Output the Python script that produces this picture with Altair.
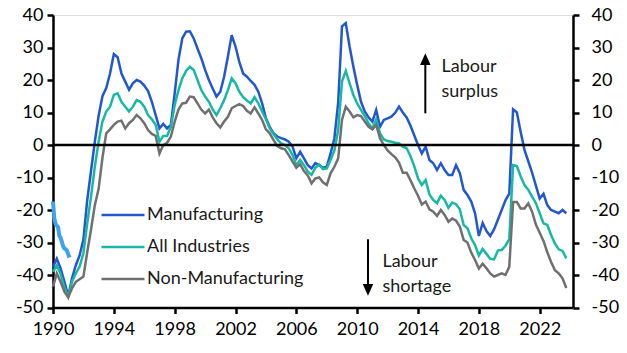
import altair as alt
import pandas as pd

# ---- data (quarterly, 1990Q1 .. 2023Q4) ----
start_year = 1990
n_quarters = 136

manufacturing = [
    -37.5, -35, -38, -42,
    -46.5, -41, -37, -34,
    -29, -17, -8, 1,
    9, 15, 17.5, 22,
    28, 27, 22, 19.5,
    17, 19, 20, 19.5,
    18.3, 16.6, 13.3, 9.2,
    5.1, 6.5, 5.1, 6.2,
    15.9, 26.2, 32.8, 34.9,
    35, 32.8, 29.7, 26.7,
    23.1, 20, 17.4, 14.9,
    16.4, 21, 27.2, 33.8,
    30.3, 25.6, 22, 21,
    19.7, 18.5, 16.4, 12.8,
    8.2, 5.6, 3.6, 2.6,
    2.1, 1.7, 1.0, -0.5,
    -4.1, -2.1, -4.1, -6.2,
    -7.2, -5.6, -6.2, -7,
    -6.7, -2.6, 2, 13,
    36.5, 37.5, 30.3, 24.1,
    18.5, 13.3, 10.3, 8.5,
    7.2, 10.8, 5.6, 7.7,
    8.2, 8.7, 9.9, 11.8,
    10, 8.5, 6, 3,
    0, -2.6, -0.5, -4.6,
    -5.6, -7.7, -5.6, -7.7,
    -9.2, -9.2, -6.2, -8.7,
    -13.8, -15.4, -17.4, -21,
    -28, -24, -26.5, -28,
    -26, -23, -20, -17,
    -15, 11, 10, 4,
    -1.5, -5, -8.5, -12.5,
    -16.5, -15, -18.5, -20,
    -20.5, -21, -20, -21,
]

all_industries = [
    -39, -37, -39.7, -43.8,
    -46.7, -42.1, -39.5, -37.4,
    -33.3, -24.1, -15.9, -6.7,
    1, 7.2, 10.3, 11.8,
    15.4, 15.9, 13.3, 11.8,
    10.3, 11.8, 13.8, 13.3,
    11.8, 9.2, 7.9, 6.2,
    1, 2.8, 2.8, 5.6,
    12.3, 16.9, 20.5, 22.8,
    24.1, 23.1, 20, 16.9,
    14.9, 13.3, 10.9, 9.2,
    11.3, 13.8, 16.9, 20.5,
    19, 16.4, 14.7, 13.7,
    12.8, 14.7, 12.8, 10.3,
    7.9, 5.1, 3.4, 1.7,
    0.5, 0, -1, -3.1,
    -6.2, -4.6, -6.2, -8.2,
    -9.2, -7, -6, -7.4,
    -7.2, -4.6, -1.7, 4.6,
    19.5, 22.8, 19, 15.4,
    12.8, 10.8, 8.9, 6.7,
    5.1, 7.9, 3.6, 1.7,
    1.2, 1, 0.7, 0.5,
    -0.5, -1, -3.4, -6.5,
    -10.3, -12.3, -10.8, -15.2,
    -16.9, -17.9, -15.6, -16.9,
    -19.3, -17.7, -18.2, -19.8,
    -24.6, -25.6, -28.7, -30.8,
    -34, -32, -33.5, -35,
    -35.2, -32.5, -32.3, -31,
    -29, -6.2, -6.5, -9.7,
    -12.3, -13.8, -15.9, -17.9,
    -21, -24.1, -24.6, -27.7,
    -30.3, -32.1, -32.6, -34.9,
]

non_manufacturing = [
    -43.6, -39.5, -42.1, -45.1,
    -46.9, -44.1, -42.1, -41.3,
    -40.5, -33, -26, -18.5,
    -13.5, -4, 3.6, 4.8,
    6.2, 7.2, 7.5, 5.1,
    6.7, 7.7, 9.2, 8.2,
    6.7, 4.6, 3.4, 2.8,
    -2.6, 0, 0.7, 2.6,
    7.2, 10.9, 12.8, 13,
    14.9, 14.7, 12.8, 10.9,
    9.7, 10.9, 8.5, 6.7,
    5.4, 7.2, 8.7, 11.3,
    12, 12.6, 12, 10.5,
    9.7, 11.6, 9.7, 7.7,
    4.8, 3.6, 1.5, -0.3,
    -1, -1.3, -3.1, -5.1,
    -7, -5.9, -8, -9.4,
    -11.8, -10.3, -10, -11.5,
    -12.3, -8.7, -6.7, -4.1,
    7.7, 11.8, 10.3, 8.5,
    9.2, 8.9, 7.2, 5.6,
    4.8, 6.2, 2.1, 0,
    -1.7, -2.8, -3.8, -5.4,
    -8.5, -8.5, -10.8, -13.3,
    -15.6, -18.3, -17.4, -19.8,
    -20.5, -21.8, -20, -21.5,
    -23.6, -22.6, -23.3, -25.1,
    -29.2, -30, -33.1, -35.4,
    -38, -36.5, -37.9, -39.5,
    -40.5, -40, -39.5, -40,
    -37.5, -17.5, -17.5, -19.5,
    -19.5, -18, -20.5, -24.5,
    -27, -29.5, -33, -36,
    -38.5, -39.5, -41, -44,
]

# short monthly series at the start (light blue)
early_start = 1990
early_values = [-17.4, -22.5, -24.3, -24.8, -25.3, -27.9, -28.5, -29.8,
                -31.2, -31.8, -32.1, -32.5, -33.6, -34.6]

series_names = ["Manufacturing", "All Industries", "Non-Manufacturing"]
series_colors = ["#2357D0", "#17B9A4", "#707070"]
early_color = "#3DA2F0"

x_ticks = [1990, 1994, 1998, 2002, 2006, 2010, 2014, 2018, 2022]
y_ticks = [-50, -40, -30, -20, -10, 0, 10, 20, 30, 40]
x_domain = [1990, 2024.19]
y_domain = [-50, 40]

# annotations (in data units)
up_arrow = {"x": 2014.48, "y": 9.75, "y2": 25.6, "head": 26.4}
down_arrow = {"x": 2010.71, "y": -29.0, "y2": -43.1, "head": -44.6}
notes_text = ["Labour\nsurplus", "Labour\nshortage"]
notes_x = [2015.54, 2011.66]
notes_y = [22.55, -37.6]

FONT = "Lato"

# ---- build tables ----
quarters = pd.period_range(f"{start_year}Q1", periods=n_quarters, freq="Q")
xq = [p.year + (p.quarter - 1) / 4 for p in quarters]
rows = []
for name, vals in zip(series_names, [manufacturing, all_industries, non_manufacturing]):
    for xv, v in zip(xq, vals):
        rows.append({"x": xv, "value": v, "series": name})
df = pd.DataFrame(rows)

early_df = pd.DataFrame({
    "x": [early_start + k / 12 for k in range(len(early_values))],
    "value": early_values,
})

xscale = alt.Scale(domain=x_domain, nice=False, zero=False)
yscale = alt.Scale(domain=y_domain, nice=False)

axis_common = dict(
    grid=False, domainColor="black", domainWidth=2.5, tickColor="black",
    tickWidth=2.5, tickSize=6, labelFont=FONT, labelFontSize=18,
    labelColor="black", title=None,
)
neg_expr = "datum.value < 0 ? '-' + abs(datum.value) : '' + datum.value"

x_enc = alt.X("x:Q", scale=xscale, title=None,
              axis=alt.Axis(values=x_ticks, format="d", labelPadding=7,
                            labelFlush=False, **axis_common))

lines = alt.Chart(df).mark_line(strokeWidth=2.5).encode(
    x=x_enc,
    y=alt.Y("value:Q", scale=yscale, title=None,
            axis=alt.Axis(values=y_ticks, orient="left", labelPadding=4,
                          labelExpr=neg_expr, **axis_common)),
    color=alt.Color("series:N",
                    scale=alt.Scale(domain=series_names, range=series_colors),
                    sort=series_names,
                    legend=alt.Legend(orient="none", legendX=47, legendY=177,
                                      title=None, symbolType="stroke",
                                      symbolSize=1849, symbolStrokeWidth=2.5,
                                      labelFont=FONT, labelFontSize=18,
                                      labelColor="#1a1a1a", labelOffset=1,
                                      rowPadding=-1.3, padding=0)),
    order=alt.Order("x:Q"),
)

early = alt.Chart(early_df).mark_line(strokeWidth=4, color=early_color).encode(
    x=alt.X("x:Q", scale=xscale, title=None),
    y=alt.Y("value:Q", scale=yscale, axis=None),
)

zero_rule = alt.Chart(pd.DataFrame({"v": [0]})).mark_rule(
    color="black", strokeWidth=2.5).encode(
    y=alt.Y("v:Q", scale=yscale, title=None,
            axis=alt.Axis(values=y_ticks, orient="right", labelPadding=12,
                          labelAlign="left", labelExpr=neg_expr,
                          **axis_common)),
)

arrows_df = pd.DataFrame([up_arrow, down_arrow])
arrow_shafts = alt.Chart(arrows_df).mark_rule(color="black", strokeWidth=2).encode(
    x=alt.X("x:Q", scale=xscale, title=None),
    y=alt.Y("y:Q", scale=yscale, axis=None),
    y2="y2:Q",
)
up_head = alt.Chart(pd.DataFrame([up_arrow])).mark_point(
    shape="M0,-1L0.9,1L-0.9,1Z", filled=True, size=137, color="black",
    opacity=1).encode(
    x=alt.X("x:Q", scale=xscale, title=None),
    y=alt.Y("head:Q", scale=yscale, axis=None),
)
down_head = alt.Chart(pd.DataFrame([down_arrow])).mark_point(
    shape="M0,1L0.9,-1L-0.9,-1Z", filled=True, size=137, color="black",
    opacity=1).encode(
    x=alt.X("x:Q", scale=xscale, title=None),
    y=alt.Y("head:Q", scale=yscale, axis=None),
)

notes = alt.Chart(pd.DataFrame({"x": notes_x, "y": notes_y, "t": notes_text})).mark_text(
    align="left", baseline="alphabetic", font=FONT, fontSize=18,
    color="#1a1a1a", lineBreak="\n", lineHeight=25).encode(
    x=alt.X("x:Q", scale=xscale, title=None),
    y=alt.Y("y:Q", scale=yscale, axis=None),
    text="t:N",
)

chart = alt.layer(
    lines, zero_rule, early, arrow_shafts, up_head, down_head, notes
).resolve_scale(y="shared").resolve_axis(y="independent").properties(
    width=520, height=292.5,
    autosize=alt.AutoSizeParams(type="none"),
    padding={"left": 53, "top": 15, "right": 54, "bottom": 46},
).configure_view(stroke=None).configure(background="white")

chart.save("out.html", embed_options={"renderer": "svg", "actions": False})
